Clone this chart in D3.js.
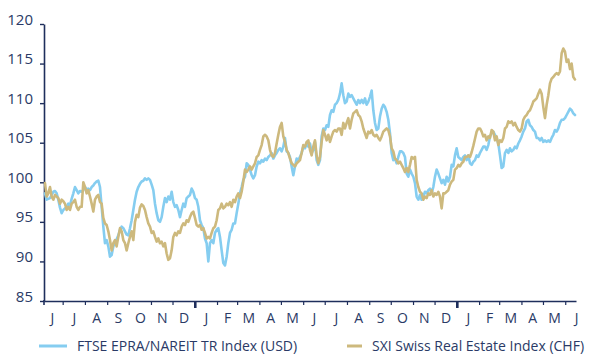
<!DOCTYPE html>
<html>
<head>
<meta charset="utf-8">
<script src="https://cdn.jsdelivr.net/npm/d3@7"></script>
<style>
  html, body { margin: 0; padding: 0; background: #ffffff; }
  svg text { font-family: "Open Sans", "Noto Sans", sans-serif; }
</style>
</head>
<body>
<svg id="chart" width="589" height="354"></svg>
<script>
// Series labels and colours
const seriesNames = ["FTSE EPRA/NAREIT TR Index (USD)", "SXI Swiss Real Estate Index (CHF)"];
const seriesColors = ["#85cdf0", "#cdb97d"];

// Axis ticks
const yTicks = [85, 90, 95, 100, 105, 110, 115, 120];
const monthInitials = ["J", "F", "M", "A", "M", "J", "J", "A", "S", "O", "N", "D"];

// Observation calendar: first observation and spacing between observations
const periodStart = new Date(2017, 5, 5);
const periodEnd = new Date(2019, 5, 16);
const firstObs = new Date(2017, 5, 6, 9);
const stepDays = 2.3214;

// Index levels (rebased to 100)
const ftse = [
  98.6, 97.8, 97.9, 98.0, 98.4, 98.8, 98.9, 98.6, 97.8, 96.8,
  96.1, 96.5, 96.7, 96.9, 97.3, 97.1, 97.9, 98.6, 99.4, 99.0,
  98.6, 98.9, 98.8, 99.0, 99.4, 99.1, 99.2, 99.0, 99.4, 99.6,
  99.9, 100.1, 100.2, 99.4, 96.9, 94.4, 92.3, 92.7, 91.9, 90.6,
  90.8, 91.9, 92.3, 92.8, 93.3, 94.0, 94.4, 94.2, 93.8, 93.4,
  93.3, 94.2, 95.2, 96.5, 97.8, 98.8, 99.4, 99.8, 100.1, 100.2,
  100.5, 100.3, 100.5, 100.3, 99.7, 99.0, 97.3, 96.1, 95.2, 95.0,
  95.6, 96.9, 98.0, 97.5, 98.2, 97.8, 98.8, 97.5, 96.9, 97.1,
  96.5, 95.6, 96.5, 97.3, 96.9, 98.0, 98.2, 98.4, 99.2, 98.8,
  98.0, 97.8, 96.9, 95.2, 94.6, 94.2, 92.9, 92.3, 90.0, 92.3,
  92.7, 92.3, 93.6, 94.0, 94.2, 93.1, 91.4, 89.8, 89.5, 90.6,
  92.3, 93.6, 94.0, 94.8, 94.8, 96.1, 97.3, 98.6, 99.4, 100.3,
  100.7, 102.4, 102.2,
  101.6, 100.9, 100.5, 100.9, 102.0, 102.6, 102.4, 102.8, 102.6, 103.0,
  102.8, 103.2, 103.4, 103.7, 103.0, 103.4, 103.7, 104.1, 104.3, 103.9,
  104.5, 105.6, 103.9, 103.7, 103.2, 102.0, 100.9, 102.0, 103.0, 102.8,
  103.2, 103.7, 104.5, 104.3, 104.9, 104.5, 104.9, 103.7, 104.1, 105.1,
  102.8, 102.2, 102.8, 105.8, 106.8, 106.6, 107.2, 107.0, 108.5, 109.1,
  108.9, 109.8, 110.0, 110.4, 111.2, 112.5, 111.0, 110.0, 110.2, 111.2,
  110.8, 111.0, 110.6,
  110.2, 109.8, 110.4, 110.0, 110.4, 110.0, 110.6, 109.8, 110.2, 110.8,
  111.6, 109.1, 107.5, 106.6, 106.8, 108.3, 109.3, 109.8, 109.5, 108.9,
  107.9, 106.2, 103.7, 102.8, 103.0, 102.4, 103.2, 103.9, 103.9, 103.7,
  103.2, 101.1, 100.7, 101.6, 101.1, 100.7, 99.9, 98.2, 97.8, 98.4,
  97.8, 98.2, 98.8, 98.6, 99.0, 99.2, 98.6, 99.4, 100.7, 101.6,
  101.1, 100.5, 99.9, 100.3, 99.7, 100.7, 100.1, 100.7, 102.2, 102.0,
  103.4, 104.3, 103.2, 103.0, 102.8, 103.2,
  103.4, 102.8, 103.4, 102.4, 102.2, 102.6, 102.8, 103.4, 103.2, 103.7,
  104.1, 104.5, 104.5, 104.1, 104.7, 105.8, 106.2, 106.4, 106.0, 105.6,
  104.9, 103.4, 101.8, 102.0, 103.7, 104.1, 103.7, 104.3, 103.9, 104.1,
  104.5, 104.3, 104.9, 105.3, 105.8, 106.4, 106.8, 107.7, 107.9, 107.2,
  107.0, 106.6, 106.4, 105.6, 105.6, 105.3, 105.6, 105.1, 105.3, 105.1,
  105.3, 105.1, 105.6, 106.0, 106.6, 106.4, 106.8, 107.5, 107.9, 107.9,
  108.1, 108.5, 108.9, 109.3, 109.1, 108.7, 108.5
];

const sxi = [
  99.9, 98.2, 98.6, 99.4, 98.2, 97.8, 98.4, 98.2, 98.0, 97.3,
  97.8, 97.6, 97.3, 96.5, 96.9, 96.5, 97.3, 97.5, 97.8, 96.9,
  96.5, 96.9, 96.9, 100.0, 99.4, 98.6, 99.0, 98.2, 97.3, 96.3,
  97.8, 98.2, 98.4, 97.5, 97.3, 95.5, 94.8, 94.6, 93.8, 92.7,
  91.4, 92.3, 92.7, 91.9, 93.1, 94.2, 93.8, 92.7, 92.3, 91.4,
  92.3, 93.1, 93.8, 92.7, 95.0, 95.9, 95.6, 96.8, 97.2, 97.0,
  96.5, 95.6, 94.8, 94.4, 93.6, 93.8, 93.1, 92.5, 92.9, 92.3,
  92.5, 91.9, 92.3, 91.0, 90.2, 90.4, 91.4, 93.1, 93.6, 93.3,
  93.8, 93.6, 94.4, 94.8, 94.6, 95.2, 95.0, 95.6, 96.1, 96.3,
  95.5, 94.6, 94.4, 94.6, 94.0, 94.2, 93.6, 92.9, 93.1, 92.9,
  93.6, 94.2, 94.4, 95.2, 96.5, 96.7, 97.3, 96.7, 96.9, 97.3,
  97.1, 97.5, 96.9, 97.8, 97.5, 98.2, 98.6, 98.0, 98.8, 100.1,
  101.6, 101.3, 101.6,
  102.0, 101.6, 102.0, 102.4, 103.2, 103.4, 104.1, 104.7, 105.8, 106.0,
  105.8, 105.3, 104.1, 103.4, 103.2, 103.7, 104.9, 106.0, 107.0, 107.5,
  105.8, 105.1, 104.1, 103.7, 103.0, 102.4, 102.2, 102.0, 102.4, 102.6,
  102.8, 103.7, 104.7, 104.5, 105.1, 105.3, 104.1, 103.4, 104.5, 105.3,
  103.4, 102.4, 103.2, 105.1, 106.6, 106.0, 105.3, 106.0, 105.1, 105.8,
  106.4, 106.6, 106.4, 106.8, 106.8, 106.0, 107.5, 106.8, 107.5, 108.1,
  106.8, 107.9, 108.7,
  108.9, 109.1, 108.5, 108.3, 107.7, 106.8, 106.2, 105.6, 106.4, 106.2,
  106.6, 106.0, 105.8, 106.0, 105.6, 105.3, 105.8, 106.4, 106.6, 106.8,
  106.6, 105.8, 104.3, 103.9, 103.0, 102.8, 102.4, 102.6, 102.2, 101.8,
  101.3, 101.8, 101.3, 102.2, 103.2, 103.0, 103.2, 100.3, 99.4, 98.8,
  98.6, 97.8, 98.2, 98.0, 98.6, 98.4, 99.0, 98.2, 98.6, 98.4,
  98.8, 98.2, 96.7, 98.6, 98.6, 98.8, 99.0, 99.7, 100.1, 100.3,
  101.6, 101.8, 102.2, 102.0, 102.4, 102.6,
  103.2, 103.2, 103.4, 103.2, 103.8, 104.6, 105.5, 106.4, 106.8, 106.8,
  106.4, 105.8, 106.0, 105.3, 105.8, 105.6, 106.6, 106.4, 105.3, 105.8,
  104.7, 105.3, 105.1, 105.6, 106.8, 107.0, 107.7, 107.5, 107.7, 107.2,
  107.5, 107.0, 106.6, 106.4, 106.8, 107.9, 108.3, 108.5, 108.9, 109.1,
  109.6, 110.2, 110.4, 110.6, 111.2, 111.7, 111.2, 109.5, 108.1, 109.8,
  111.0, 112.5, 113.1, 113.3, 113.6, 113.8, 113.6, 114.0, 116.3, 116.9,
  116.5, 115.2, 115.5, 114.3, 115.0, 113.3, 113.0
];

const navy = "#1e2e5c";
const labelColor = "#2a3a66";

const svg = d3.select("#chart");

const x = d3.scaleTime().domain([periodStart, periodEnd]).range([44, 576]);
const y = d3.scaleLinear().domain([85, 120]).range([301, 24]);

const obsDate = i => new Date(firstObs.getTime() + i * stepDays * 864e5);
const seriesData = [ftse, sxi].map(vals => vals.map((v, i) => ({ date: obsDate(i), value: v })));

// Y axis
const yAxis = svg.append("g")
  .attr("transform", "translate(44,0)")
  .call(d3.axisLeft(y).tickValues(yTicks).tickSize(4).tickSizeOuter(0).tickPadding(7));
yAxis.select(".domain").attr("stroke", navy).attr("stroke-width", 1.6);
yAxis.selectAll(".tick line").attr("stroke", navy).attr("stroke-width", 1.4);
yAxis.selectAll(".tick text")
  .attr("dy", "0em")
  .attr("fill", labelColor)
  .style("font-size", "15px");
// short extension of the vertical axis below the baseline
svg.append("line")
  .attr("x1", 44).attr("x2", 44).attr("y1", 300).attr("y2", 305)
  .attr("stroke", navy).attr("stroke-width", 1.6);

// X axis: month boundary ticks, heavier at year boundaries
const monthStarts = d3.timeMonth.range(d3.timeMonth.ceil(periodStart), periodEnd);
const xAxis = svg.append("g")
  .attr("transform", "translate(0,301)")
  .call(d3.axisBottom(x).tickValues(monthStarts).tickSize(4).tickSizeOuter(0).tickFormat(""));
xAxis.select(".domain").attr("stroke", navy).attr("stroke-width", 1.6);
xAxis.selectAll(".tick line")
  .attr("stroke", navy)
  .attr("stroke-width", d => d.getMonth() === 0 ? 2.6 : 1.2)
  .attr("y2", d => d.getMonth() === 0 ? 7 : 4);

// Month initials centred in each month
const monthMids = d3.timeMonth.range(d3.timeMonth.floor(periodStart), periodEnd)
  .map(m => new Date((m.getTime() + d3.timeMonth.offset(m, 1).getTime()) / 2));
const xLabels = svg.append("g")
  .attr("transform", "translate(0,301)")
  .call(d3.axisBottom(x).tickValues(monthMids).tickSize(0).tickPadding(12)
    .tickFormat(d => monthInitials[d.getMonth()]));
xLabels.select(".domain").remove();
xLabels.selectAll(".tick text")
  .attr("fill", labelColor)
  .style("font-size", "14px");

// Lines
const line = d3.line()
  .x(d => x(d.date))
  .y(d => y(d.value));

svg.append("g")
  .selectAll("path")
  .data(seriesData)
  .join("path")
  .attr("d", line)
  .attr("fill", "none")
  .attr("stroke", (d, i) => seriesColors[i])
  .attr("stroke-width", 2.6)
  .attr("stroke-linejoin", "round")
  .attr("stroke-linecap", "round");

// Legend
const legendItems = [
  { x1: 39, x2: 67, tx: 77 },
  { x1: 347, x2: 362, tx: 372 }
];
const legend = svg.append("g");
legendItems.forEach((it, i) => {
  legend.append("line")
    .attr("x1", it.x1).attr("x2", it.x2)
    .attr("y1", 346).attr("y2", 346)
    .attr("stroke", seriesColors[i]).attr("stroke-width", 3);
  legend.append("text")
    .attr("x", it.tx).attr("y", 351)
    .attr("fill", labelColor)
    .style("font-size", "14px")
    .text(seriesNames[i]);
});
</script>
</body>
</html>
